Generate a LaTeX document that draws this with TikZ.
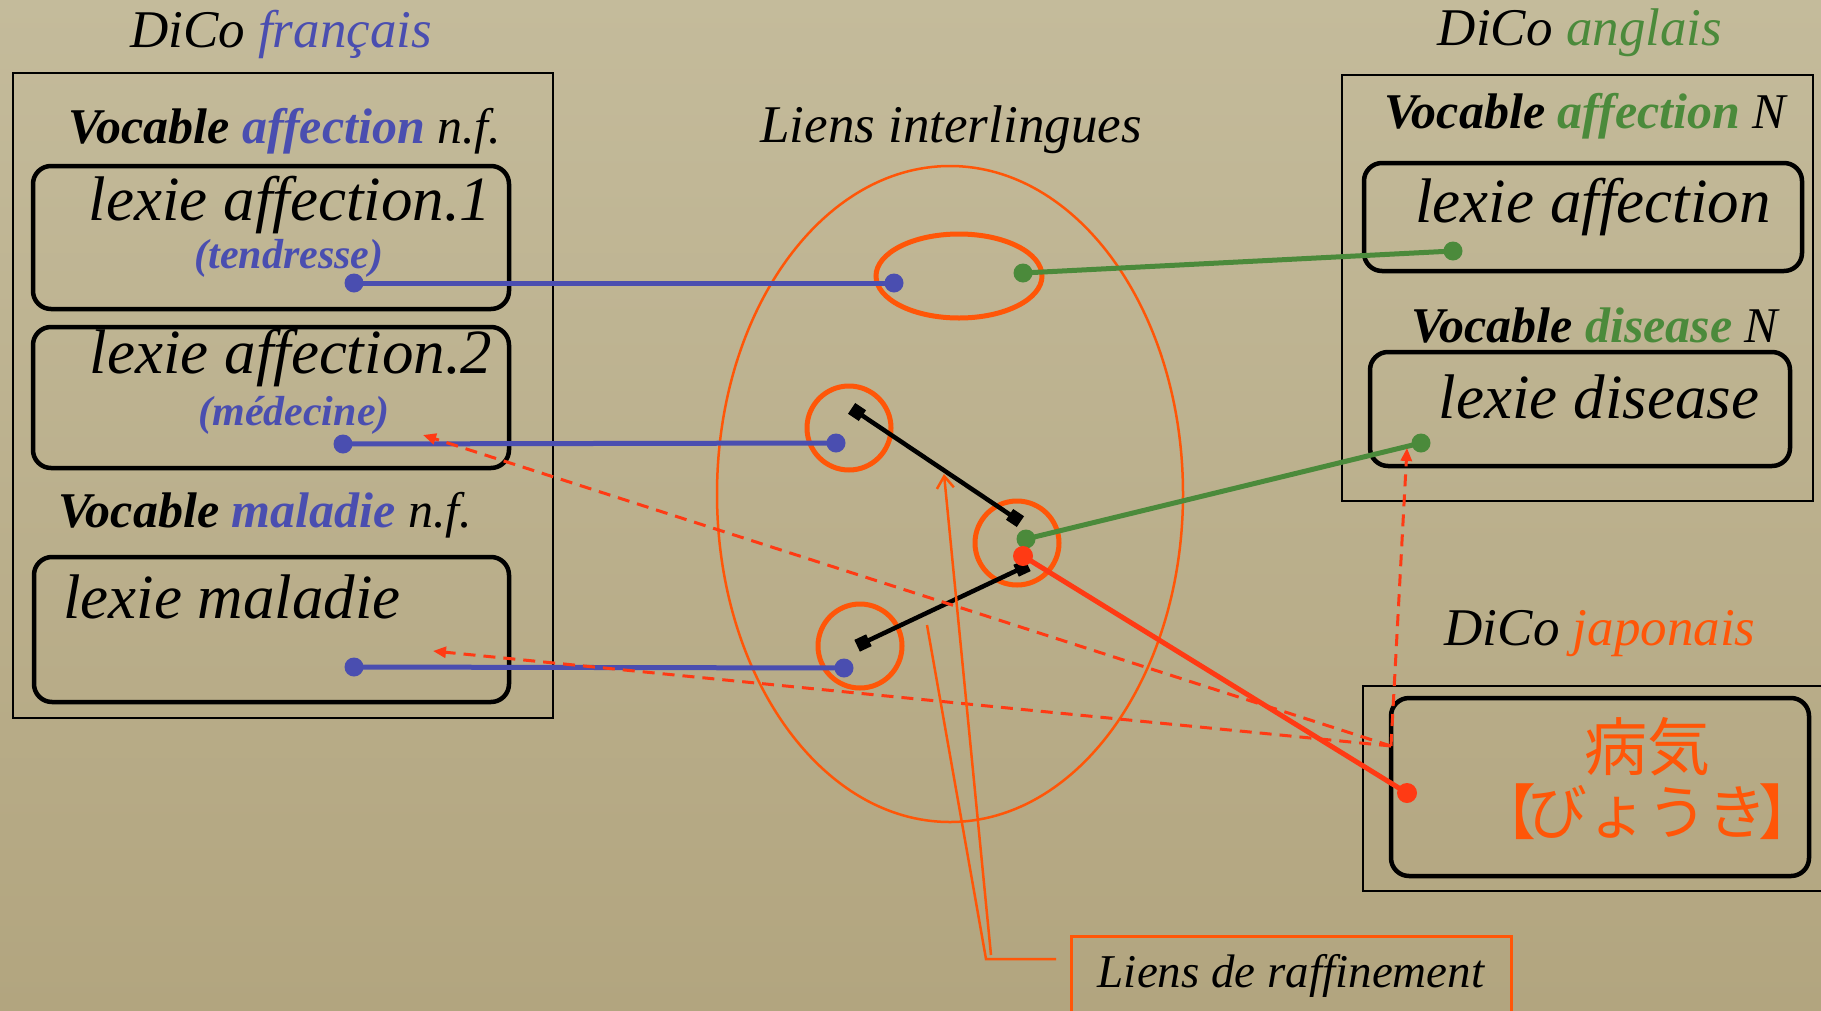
\documentclass[tikz,border=0pt]{standalone}
\usepackage{fontspec}
\setmainfont{Liberation Serif}
\newfontfamily\jpfont{Noto Sans CJK JP}
\usetikzlibrary{arrows.meta}
\definecolor{bgtop}{HTML}{C4BB9B}
\definecolor{bgbot}{HTML}{B2A57F}
\definecolor{blueC}{HTML}{4A4EB0}
\definecolor{greenC}{HTML}{4B8A3B}
\definecolor{orangeC}{HTML}{FF5608}
\definecolor{redC}{HTML}{FF3A14}
\newcommand\titfont{\fontsize{53}{60}\selectfont\itshape}
\newcommand\vocfont{\fontsize{50}{56}\selectfont\itshape}
\newcommand\lexfont{\fontsize{63}{70}\selectfont\itshape}
\newcommand\subfont{\fontsize{42}{48}\selectfont\itshape\bfseries}
\newcommand\rafffont{\fontsize{47}{54}\selectfont\itshape}
\newcommand\jpsize{\fontsize{63}{70}\selectfont\jpfont}
\newcommand\jpsizeb{\fontsize{60}{66}\selectfont\jpfont}
\begin{document}
\begin{tikzpicture}[x=1pt,y=-1pt,
  txt/.style={inner sep=0pt, anchor=base},
  outerbox/.style={draw=black, line width=2pt},
  lexbox/.style={draw=black, line width=4.5pt, rounded corners=18pt},
  bline/.style={draw=blueC, line width=5pt},
  gline/.style={draw=greenC, line width=5pt},
  rline/.style={draw=redC, line width=5pt},
  kline/.style={draw=black, line width=4.5pt},
  dline/.style={draw=redC, line width=3pt, dash pattern=on 12pt off 8pt, -{Triangle[length=13pt,width=11pt]}},
  raff/.style={draw=orangeC, line width=2.5pt},
  ring/.style={draw=orangeC, line width=5pt},
  sqr/.style={fill=black, inner sep=0pt, minimum size=13pt, rectangle, sloped},
]
\clip (0,0) rectangle (1821,1010);
\shade[top color=bgtop, bottom color=bgbot] (0,0) rectangle (1821,1010);

% ---------------- French DiCo
\node[txt, font=\titfont] (tfr) at (281,47) {DiCo \textcolor{blueC}{français}};
\draw[outerbox] (13,73) rectangle (553,718);
\node[txt, font=\vocfont] (vfa) at (285,143) {\textbf{Vocable \textcolor{blueC}{affection}} n.f.};
\draw[lexbox] (33,166) rectangle (509,309);
\node[txt, font=\lexfont] (lfa1) at (290,220) {lexie affection.1};
\node[txt, font=\subfont, text=blueC] (sfa1) at (289,268) {(tendresse)};
\draw[lexbox] (33,327) rectangle (509,468);
\node[txt, font=\lexfont] (lfa2) at (291,373) {lexie affection.2};
\node[txt, font=\subfont, text=blueC] (sfa2) at (294,425) {(médecine)};
\node[txt, font=\vocfont] (vfm) at (265,527) {\textbf{Vocable \textcolor{blueC}{maladie}} n.f.};
\draw[lexbox] (34,557) rectangle (509,702);
\node[txt, font=\lexfont, anchor=base west] (lfm) at (63,618) {lexie maladie};

% ---------------- English DiCo
\node[txt, font=\titfont] (ten) at (1580,45) {DiCo \textcolor{greenC}{anglais}};
\draw[outerbox] (1342,75) rectangle (1813,501);
\node[txt, font=\vocfont] (vea) at (1585,128) {\textbf{Vocable \textcolor{greenC}{affection}} N};
\draw[lexbox] (1364,163) rectangle (1802,271);
\node[txt, font=\lexfont] (lea) at (1593,222) {lexie affection};
\node[txt, font=\vocfont] (ved) at (1595,342) {\textbf{Vocable \textcolor{greenC}{disease}} N};
\draw[lexbox] (1370,352) rectangle (1790,466);
\node[txt, font=\lexfont] (led) at (1599,418) {lexie disease};

% ---------------- Japanese DiCo
\node[txt, font=\titfont] (tjp) at (1600,645) {DiCo \textcolor{orangeC}{japonais}};
\draw[outerbox] (1363,686) rectangle (1840,891);
\draw[lexbox] (1391,698) rectangle (1809,876);
\node[inner sep=0pt, font=\jpsize, text=orangeC] (jk1) at (1647,747) {病気};
\node[inner sep=0pt, font=\jpsizeb, text=orangeC] (jk2) at (1647,812) {【\kern-0.15em びょうき\kern-0.15em 】};

% ---------------- Interlingual links
\node[txt, font=\titfont] (til) at (951,142) {Liens interlingues};
\draw[draw=orangeC, line width=2.5pt] (950,494) ellipse [x radius=233, y radius=328];
\draw[ring] (959,276) ellipse [x radius=83, y radius=42];
\draw[ring] (849,428) circle [radius=42];
\draw[ring] (1017,543) circle [radius=42];
\draw[ring] (860,646) circle [radius=42];

% anchor points
\coordinate (fa1) at (354,283);
\coordinate (fa2) at (343,444);
\coordinate (fm) at (354,667);
\coordinate (ea) at (1453,251);
\coordinate (ed) at (1421,443);
\coordinate (jb) at (1407,793);
\coordinate (ilb1) at (894,283);
\coordinate (ilg1) at (1023,273);
\coordinate (ilb2) at (836,443);
\coordinate (ilb3) at (844,668);
\coordinate (ilg4) at (1026,539);
\coordinate (ilr4) at (1023,556);
\coordinate (ka) at (857,412);
\coordinate (kb) at (1015,518);
\coordinate (kc) at (1022,568);
\coordinate (kd) at (863,643);
\coordinate (jsrc) at (1391,746);
\coordinate (tfa2) at (423,435);
\coordinate (tfm) at (433,651);
\coordinate (ted) at (1407,448);

% refinement links between interlingual nodes
\draw[kline] (ka) -- (kb) node[sqr, pos=0] (sqa) {} node[sqr, pos=1] (sqb) {};
\draw[kline] (kc) -- (kd) node[sqr, pos=0] (sqc) {} node[sqr, pos=1] (sqd) {};

% lexical links
\draw[bline] (fa1) -- (ilb1);
\draw[bline] (fa2) -- (ilb2);
\draw[bline] (fm) -- (ilb3);
\draw[gline] (ilg1) -- (ea);
\draw[gline] (ilg4) -- (ed);
\draw[rline] (ilr4) -- (jb);

% dashed red arrows
\draw[dline] (jsrc) -- (ted);
\draw[dline] (jsrc) -- (tfa2);
\draw[dline] (jsrc) -- (tfm);

% dots
\foreach \p in {fa1,fa2,fm,ilb1,ilb2,ilb3} \fill[blueC] (\p) circle [radius=9.5];
\foreach \p in {ea,ed,ilg1,ilg4} \fill[greenC] (\p) circle [radius=9.5];
\foreach \p in {ilr4,jb} \fill[redC] (\p) circle [radius=10];

% ---------------- Liens de raffinement
\draw[draw=orangeC, line width=3pt] (1071,1030) -- (1071,936) -- (1511,936) -- (1511,1030);
\node[txt, font=\rafffont] (lraff) at (1291,987) {Liens de raffinement};
\coordinate (rh) at (1056,959);
\coordinate (rc) at (986,959);
\coordinate (rc2) at (991,955);
\coordinate (rt1) at (927,625);
\coordinate (rt2) at (944,474);
\draw[raff] (rh) -- (rc) -- (rt1);
\draw[raff, -{Straight Barb[length=12pt,width=17pt]}] (rc2) -- (rt2);
\end{tikzpicture}
\end{document}
